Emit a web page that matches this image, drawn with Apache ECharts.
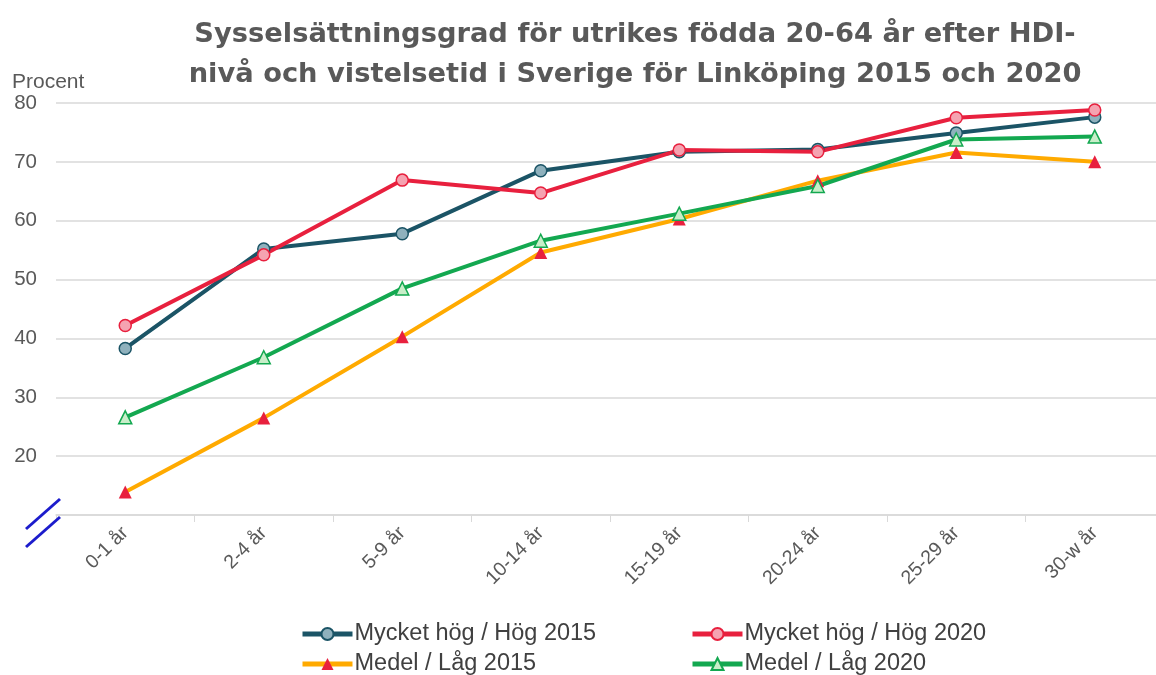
<!DOCTYPE html>
<html>
<head>
<meta charset="utf-8">
<script src="https://cdn.jsdelivr.net/npm/echarts@6/dist/echarts.min.js"></script>
<style>
  html, body { margin: 0; padding: 0; background: #fff; }
  #chart { width: 1156px; height: 675px; }
</style>
</head>
<body>
<div id="chart"></div>
<script>
var categories = ['0-1 år', '2-4 år', '5-9 år', '10-14 år', '15-19 år', '20-24 år', '25-29 år', '30-w år'];
var hog2015 = [38.3, 55.2, 57.8, 68.5, 71.7, 72.1, 74.9, 77.6];
var hog2020 = [42.2, 54.2, 66.9, 64.7, 72.0, 71.7, 77.5, 78.8];
var lag2015 = [13.9, 26.5, 40.3, 54.6, 60.3, 66.8, 71.6, 70.0];
var lag2020 = [26.6, 36.8, 48.5, 56.6, 61.2, 65.9, 73.8, 74.3];
var yTicks = [20, 30, 40, 50, 60, 70, 80];

var textGray = '#595959';
var chart = echarts.init(document.getElementById('chart'));

function lineSeries(name, data, color, symbol, fill, border) {
	return {
		name: name,
		type: 'line',
		data: data,
		symbol: symbol,
		symbolSize: symbol == 'circle' ? 12 : 13,
		lineStyle: { color: color, width: 4 },
		itemStyle: { color: fill, borderColor: border, borderWidth: border == fill ? 0 : 1.5 },
		emphasis: { disabled: true }
	};
}

// legend, two columns of two rows
var legendText = { color: '#404040', fontSize: 23.5, lineHeight: 24, fontFamily: 'Liberation Sans', padding: [0, 0, 0, -3] };
function legendCol(left, names) {
	return {
		orient: 'vertical', left: left, top: 622, height: 56, padding: 0,
		itemWidth: 50, itemHeight: 15, itemGap: 6,
		lineStyle: { width: 5 },
		textStyle: legendText,
		data: names
	};
}

var option = {
	animation: false,
	title: {
		text: 'Sysselsättningsgrad för utrikes födda 20-64 år efter HDI-\nnivå och vistelsetid i Sverige för Linköping 2015 och 2020',
		left: 630,
		top: 10,
		textAlign: 'center',
		textStyle: { color: textGray, fontSize: 27.3, fontWeight: 'bold', fontFamily: 'DejaVu Sans', lineHeight: 40 }
	},
	grid: { left: 56, right: -8, top: 103, bottom: 160, outerBoundsMode: 'none' },
	legend: [
		legendCol(300, ['Mycket hög / Hög 2015', 'Medel / Låg 2015']),
		legendCol(690, ['Mycket hög / Hög 2020', 'Medel / Låg 2020'])
	],
	xAxis: {
		type: 'category',
		data: categories,
		boundaryGap: true,
		axisLine: { lineStyle: { color: '#d9d9d9', width: 1.5 } },
		axisTick: { show: true, length: 7, lineStyle: { color: '#d9d9d9' } },
		axisLabel: { rotate: 45, color: textGray, fontSize: 19.5, fontFamily: 'Liberation Sans', margin: 15 }
	},
	yAxis: {
		type: 'value',
		min: 10,
		max: 80,
		interval: 10,
		name: 'Procent',
		nameLocation: 'end',
		nameGap: 10,
		nameTextStyle: { color: textGray, fontSize: 21, fontFamily: 'Liberation Sans', align: 'left', padding: [0, 0, -4, -44] },
		axisLine: { show: false },
		axisTick: { show: false },
		axisLabel: {
			color: textGray, fontSize: 20.5, fontFamily: 'Liberation Sans', margin: 19,
			formatter: function (v) { return yTicks.indexOf(v) >= 0 ? String(v) : ''; }
		},
		splitLine: { lineStyle: { color: '#d9d9d9', width: 1.5 } }
	},
	graphic: [
		{ type: 'line', z: 100, shape: { x1: 26, y1: 529, x2: 60, y2: 499 }, style: { stroke: '#1c1ccc', lineWidth: 3 } },
		{ type: 'line', z: 100, shape: { x1: 26, y1: 547, x2: 60, y2: 517 }, style: { stroke: '#1c1ccc', lineWidth: 3 } }
	],
	series: [
		lineSeries('Mycket hög / Hög 2015', hog2015, '#1b5466', 'circle', '#8fb1bd', '#1b5466'),
		lineSeries('Mycket hög / Hög 2020', hog2020, '#e8203e', 'circle', '#f5a3b1', '#e8203e'),
		lineSeries('Medel / Låg 2015', lag2015, '#ffaa00', 'triangle', '#e8203e', '#e8203e'),
		lineSeries('Medel / Låg 2020', lag2020, '#13a850', 'triangle', '#c8eec9', '#13a850')
	]
};

chart.setOption(option);
window.onresize = chart.resize;
</script>
</body>
</html>
